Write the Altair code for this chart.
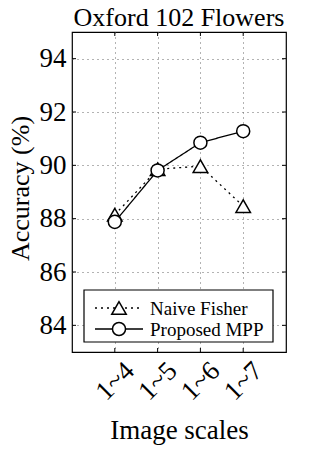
import altair as alt
import pandas as pd

scales = ["1~4", "1~5", "1~6", "1~7"]
naive = [88.15, 89.85, 89.97, 88.47]
mpp = [87.88, 89.81, 90.85, 91.28]
series_names = ["Naive Fisher", "Proposed MPP"]
y_ticks = [84, 86, 88, 90, 92, 94]
x_ticks = [1, 2, 3, 4]
chart_title = "Oxford 102 Flowers"

rows = []
for i, s in enumerate(scales):
    rows.append({"x": i + 1, "label": s, "series": series_names[0], "acc": naive[i]})
    rows.append({"x": i + 1, "label": s, "series": series_names[1], "acc": mpp[i]})
df = pd.DataFrame(rows)

font = "Liberation Serif"
xexpr = "datum.value==1?'1~4':datum.value==2?'1~5':datum.value==3?'1~6':datum.value==4?'1~7':''"

grid_color = "#666"
x = alt.X("x:Q", scale=alt.Scale(domain=[0, 5], nice=False),
          axis=alt.Axis(values=x_ticks, labelExpr=xexpr, title="Image scales",
                        labelAngle=315, labelAlign="center", labelBaseline="middle",
                        labelFontSize=27, titleFontSize=27, titleFont=font, labelFont=font,
                        grid=True, gridDash=[1, 4], gridColor=grid_color, ticks=False,
                        domain=False, labelPadding=29, titleFontWeight="normal",
                        titleBaseline="alphabetic", titleY=86, labelOverlap=False,
                        titleColor="black", labelColor="black", labelFlush=False))
y = alt.Y("acc:Q", scale=alt.Scale(domain=[83, 95], nice=False, zero=False),
          axis=alt.Axis(values=y_ticks, title="Accuracy (%)",
                        labelFontSize=27, titleFontSize=26, titleFont=font, labelFont=font,
                        grid=True, gridDash=[1, 4], gridColor=grid_color, ticks=False,
                        domain=False, labelPadding=6, titleFontWeight="normal",
                        titleBaseline="alphabetic", titleX=-44, titleY=156, titleAngle=270,
                        titleAlign="center", labelOverlap=False,
                        titleColor="black", labelColor="black", labelFlush=False))

lines = alt.Chart(df).mark_line(color="black", strokeWidth=1.3).encode(
    x=x, y=y,
    strokeDash=alt.StrokeDash("series:N", scale=alt.Scale(domain=series_names, range=[[2, 4], [1, 0]]), legend=None),
)
pts = alt.Chart(df).mark_point(color="black", fill="white", filled=True, stroke="black",
                               strokeWidth=1.5, opacity=1).encode(
    x=x, y=y,
    shape=alt.Shape("series:N", scale=alt.Scale(domain=series_names, range=["triangle-up", "circle"]), legend=None),
    size=alt.Size("series:N", scale=alt.Scale(domain=series_names, range=[210, 170]), legend=None),
)

# inward MATLAB-style ticks on all four sides
ydf = pd.DataFrame({"acc": y_ticks})
xdf = pd.DataFrame({"x": x_ticks})
tick_layers = [
    alt.Chart(ydf).mark_rule(color="black", strokeWidth=1).encode(y="acc:Q", x=alt.value(0), x2=alt.value(4)),
    alt.Chart(ydf).mark_rule(color="black", strokeWidth=1).encode(y="acc:Q", x=alt.value(210), x2=alt.value(214)),
    alt.Chart(xdf).mark_rule(color="black", strokeWidth=1).encode(x="x:Q", y=alt.value(316), y2=alt.value(320)),
    alt.Chart(xdf).mark_rule(color="black", strokeWidth=1).encode(x="x:Q", y=alt.value(0), y2=alt.value(4)),
]

one = pd.DataFrame({"a": [0]})
title_layer = alt.Chart(one).mark_text(text=chart_title, font=font, fontSize=26, align="center",
                                       baseline="alphabetic", color="black").encode(
    x=alt.value(107), y=alt.value(-6))

# manual legend box (MATLAB-style, line sample with marker in the middle)
box = alt.Chart(one).mark_rect(fill="white", stroke="black", strokeWidth=1.2).encode(
    x=alt.value(12), x2=alt.value(201), y=alt.value(258), y2=alt.value(310))
leg_layers = [box]
leg_y = [276, 297]
dashes = [[2, 4], [1, 0]]
shapes = ["triangle-up", "circle"]
sizes = [210, 170]
for i, name in enumerate(series_names):
    leg_layers.append(alt.Chart(one).mark_rule(color="black", strokeWidth=1.3, strokeDash=dashes[i]).encode(
        x=alt.value(23), x2=alt.value(71), y=alt.value(leg_y[i])))
    leg_layers.append(alt.Chart(one).mark_point(shape=shapes[i], size=sizes[i], filled=True, fill="white",
                                                stroke="black", strokeWidth=1.5, opacity=1).encode(
        x=alt.value(47), y=alt.value(leg_y[i])))
    leg_layers.append(alt.Chart(one).mark_text(text=name, font=font, fontSize=19, align="left",
                                               baseline="middle", color="black").encode(
        x=alt.value(78), y=alt.value(leg_y[i] + 1)))

chart = alt.layer(*tick_layers, lines, pts, title_layer, *leg_layers).properties(
    width=214, height=320,
    autosize=alt.AutoSizeParams(type="none"),
    padding={"left": 64, "top": 24, "right": 14, "bottom": 100},
).configure_view(stroke="black", strokeWidth=1.2)

chart.save("out.html", embed_options={"renderer": "svg", "actions": False})
